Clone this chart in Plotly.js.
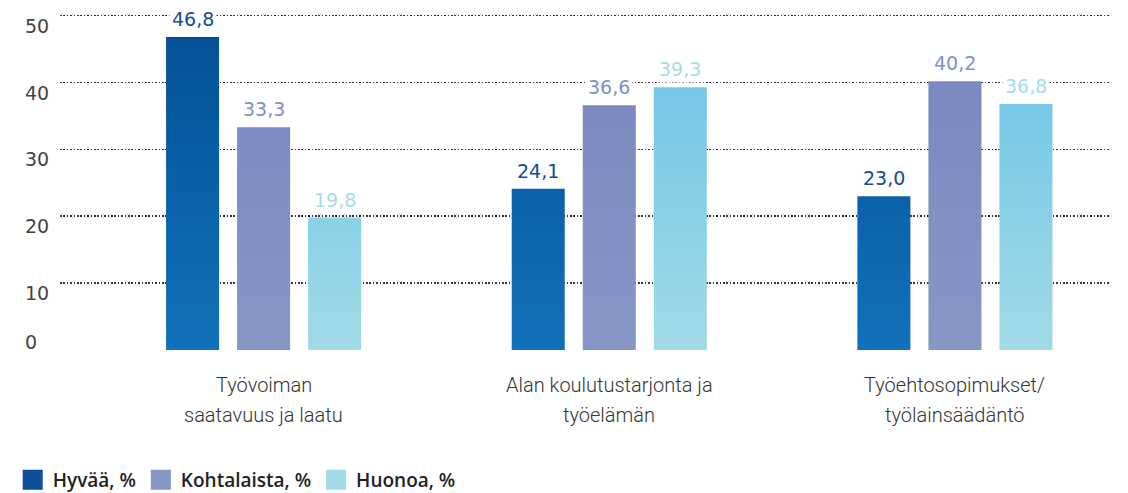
<!DOCTYPE html>
<html>
<head>
<meta charset="utf-8">
<script src="https://cdn.plot.ly/plotly-3.0.1.min.js"></script>
<style>
  html, body { margin: 0; padding: 0; background: #fff; }
  #chart { width: 1128px; height: 493px; }
</style>
</head>
<body>
<div id="chart"></div>
<script>
// ---- data ----
const categories = ['Työvoiman saatavuus ja laatu', 'Alan koulutustarjonta ja työelämän', 'Työehtosopimukset/ työlainsäädäntö'];
const labelLine1 = ['Työvoiman', 'Alan koulutustarjonta ja', 'Työehtosopimukset/'];
const labelLine2 = ['saatavuus ja laatu', 'työelämän', 'työlainsäädäntö'];
const seriesNames = ['Hyvää, %', 'Kohtalaista, %', 'Huonoa, %'];
const hyvaa = [46.8, 24.1, 23.0];
const kohtalaista = [33.3, 36.6, 40.2];
const huonoa = [19.8, 39.3, 36.8];
const yTickVals = [0, 10, 20, 30, 40, 50];

// ---- styles ----
const seriesValues = [hyvaa, kohtalaista, huonoa];
const legendColors = ['#0a4f97', '#8696c4', '#a0dbe6'];
const labelColors = ['#0d4f97', '#7f8fcc', '#a3dde9'];
const gradTop = ['#034e95', '#7984bf', '#66c2e6'];
const gradBottom = ['#1171ba', '#8797c5', '#a1dae6'];
const bargap = 0.3835;
const bargroupgap = 0.2535;
const slot = (1 - bargap) / seriesValues.length;

const traces = seriesValues.map((vals, k) => ({
  type: 'bar',
  name: seriesNames[k],
  x: categories,
  y: vals,
  marker: { color: legendColors[k], line: { width: 0 } },
  hoverinfo: 'skip'
}));

const annotations = [];
// value labels
seriesValues.forEach((vals, k) => {
  vals.forEach((v, i) => {
    annotations.push({
      x: i + (k - (seriesValues.length - 1) / 2) * slot,
      y: v,
      xref: 'x', yref: 'y',
      text: v.toFixed(1).replace('.', ','),
      showarrow: false,
      xanchor: 'center', yanchor: 'bottom',
      yshift: 4,
      bgcolor: '#ffffff',
      borderpad: 2,
      font: { family: 'DejaVu Sans', size: 19, color: labelColors[k] }
    });
  });
});
// y tick labels
yTickVals.forEach(v => {
  annotations.push({
    x: 0, xref: 'paper', xanchor: 'left', xshift: -37,
    y: v, yref: 'y', yanchor: 'middle',
    yshift: v === 0 ? 8 : -10,
    text: String(v),
    showarrow: false,
    font: { family: 'DejaVu Sans', size: 19, color: '#444444' }
  });
});
// category labels
categories.forEach((c, i) => {
  [labelLine1[i], labelLine2[i]].forEach((t, j) => {
    annotations.push({
      x: i, xref: 'x', xanchor: 'center',
      y: 0, yref: 'paper', yanchor: 'middle',
      yshift: -35 - 30 * j,
      text: t,
      showarrow: false,
      font: { family: 'Roboto', size: 20, weight: 300, color: '#333333' }
    });
  });
});

const layout = {
  width: 1128, height: 493,
  margin: { l: 60, r: 17, t: 9, b: 143, autoexpand: false },
  paper_bgcolor: '#ffffff',
  plot_bgcolor: '#ffffff',
  barmode: 'group',
  bargap: bargap,
  bargroupgap: bargroupgap,
  showlegend: true,
  legend: {
    orientation: 'h',
    x: -0.045, xanchor: 'left',
    y: -0.381, yanchor: 'middle',
    font: { family: 'Open Sans', size: 19, color: '#222222', weight: 600 },
    traceorder: 'normal'
  },
  xaxis: {
    type: 'category',
    range: [-0.589, 2.4515],
    showticklabels: false,
    showgrid: false, zeroline: false, showline: false, ticks: ''
  },
  yaxis: {
    range: [0, 51],
    tickvals: yTickVals.filter(v => v !== 0),
    showticklabels: false,
    showgrid: true,
    gridcolor: '#333333',
    gridwidth: 1.6,
    griddash: '1.6px,1.8px',
    zeroline: false, showline: false, ticks: ''
  },
  annotations: annotations,
  font: { family: 'Roboto' }
};

const gd = document.getElementById('chart');

function applyGradients() {
  const svg = gd.querySelector('svg.main-svg');
  if (!svg) return;
  let defs = svg.querySelector('defs');
  const NS = 'http://www.w3.org/2000/svg';
  const h = gd._fullLayout._size.h;
  gradTop.forEach((top, k) => {
    const id = 'bargrad' + k;
    let lg = svg.querySelector('#' + id);
    if (!lg) {
      lg = document.createElementNS(NS, 'linearGradient');
      lg.setAttribute('id', id);
      const s1 = document.createElementNS(NS, 'stop');
      const s2 = document.createElementNS(NS, 'stop');
      lg.appendChild(s1); lg.appendChild(s2);
      defs.appendChild(lg);
    }
    lg.setAttribute('gradientUnits', 'userSpaceOnUse');
    lg.setAttribute('x1', 0); lg.setAttribute('x2', 0);
    lg.setAttribute('y1', 0); lg.setAttribute('y2', h);
    const stops = lg.querySelectorAll('stop');
    stops[0].setAttribute('offset', '0'); stops[0].setAttribute('stop-color', top);
    stops[1].setAttribute('offset', '1'); stops[1].setAttribute('stop-color', gradBottom[k]);
  });
  gd.querySelectorAll('.barlayer .trace').forEach((tr, k) => {
    tr.querySelectorAll('path').forEach(p => { p.style.fill = 'url(#bargrad' + k + ')'; });
  });
  gd.querySelectorAll('.legend .legendpoints path').forEach(p => {
    if (p.getAttribute('data-scaled')) return;
    const t = p.getAttribute('transform') || '';
    p.setAttribute('transform', (t + ' scale(1.67)').trim());
    p.setAttribute('data-scaled', '1');
  });
}

Plotly.newPlot(gd, traces, layout, { displayModeBar: false, staticPlot: true }).then(() => {
  applyGradients();
  gd.on('plotly_afterplot', applyGradients);
});
</script>
</body>
</html>
